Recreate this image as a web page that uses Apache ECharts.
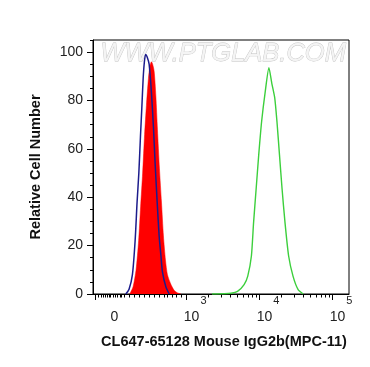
<!DOCTYPE html>
<html><head><meta charset="utf-8">
<script src="https://cdn.jsdelivr.net/npm/echarts@6/dist/echarts.min.js"></script>
<style>html,body{margin:0;padding:0;background:#fff}#c{width:370px;height:367px}</style>
</head><body><div id="c"></div>
<script>
// x values are positions on the display (biexponential) scale: 2 = "0", 3 = 10^3, 4 = 10^4, 5 = 10^5
const xRange = [1.72, 5.227];
const yRange = [0, 105];
const yTickValues = [0, 20, 40, 60, 80, 100];
const xLabelValues = [2, 3, 4, 5];
const xLabelBase = ['0', '10', '10', '10'];
const xExpValues = [3, 4, 5];
const xLabelExp = ['3', '4', '5'];
const xMajorTicks = [1.757, 3, 4, 5];
const xMinorTicks = [1.79, 1.83, 1.86, 1.89, 1.92, 1.94, 1.96, 2.0, 2.03, 2.05, 2.09, 2.11, 2.15,
  2.21, 2.28, 2.35, 2.42, 2.49, 2.56, 2.63, 2.70, 2.74, 2.81, 2.86, 2.93,
  3.30, 3.48, 3.60, 3.70, 3.78, 3.85, 3.90, 3.95,
  4.30, 4.48, 4.60, 4.70, 4.78, 4.85, 4.90, 4.95];

// Sample (red, filled)
const sampleCurve = [[2.224,0],[2.269,3],[2.310,10],[2.345,22],[2.372,36],[2.400,50],[2.427,66],
  [2.452,78],[2.479,89],[2.499,94],[2.521,96],[2.537,95],[2.558,92],[2.581,82],[2.603,68],
  [2.630,52],[2.658,38],[2.685,24],[2.713,14],[2.740,8],[2.787,4],[2.832,1.5],[2.874,0.5],[2.924,0]];
// Control (navy line)
const controlCurve = [[2.169,0],[2.214,2],[2.260,8],[2.297,22],[2.324,38],[2.348,50],[2.370,65],
  [2.389,77],[2.407,89],[2.424,96],[2.441,99],[2.462,98],[2.489,95],[2.521,83],[2.548,69],
  [2.571,54],[2.599,38],[2.626,24],[2.650,16],[2.672,9],[2.718,3],[2.764,0]];
// Positive (green line)
const positiveCurve = [[3.35,0],[3.52,0.1],[3.61,0.3],[3.70,1.1],[3.79,3.9],[3.84,7.4],[3.89,15.7],
  [3.92,29.6],[3.955,43.5],[3.99,57.4],[4.03,71.3],[4.08,83.8],[4.13,93.5],[4.17,87],[4.21,81],
  [4.24,71.3],[4.275,57.4],[4.31,43.5],[4.35,29.6],[4.40,15.7],[4.46,7.4],[4.53,1.8],[4.60,0]];

const FONT = '"Liberation Sans", Arial, sans-serif';
function findIdx(arr, v) { return arr.findIndex(t => Math.abs(t - v) < 1e-6); }
const chart = echarts.init(document.getElementById('c'), null, {renderer: 'canvas'});
chart.setOption({
  animation: false,
  backgroundColor: '#fff',
  grid: {left: 93, right: 21, top: 40, bottom: 73, show: true, borderColor: '#000', borderWidth: 1},
  graphic: [{
    type: 'text', left: 100, top: 41, z: 0,
    style: {text: 'WWW.PTGLAB.COM', font: 'italic 25.5px ' + FONT, fill: '#f4f4f4', stroke: '#c2c2c2', lineWidth: 0.8}
  }],
  xAxis: [{
    type: 'value', min: xRange[0], max: xRange[1], position: 'bottom',
    name: 'CL647-65128 Mouse IgG2b(MPC-11)', nameLocation: 'middle', nameGap: 40,
    nameTextStyle: {fontFamily: FONT, fontWeight: 'bold', fontSize: 14.5, color: '#111', padding: [0, 0, 0, 6]},
    axisLine: {show: true, lineStyle: {color: '#000', width: 1}},
    axisTick: {show: true, customValues: xMajorTicks, length: 6, lineStyle: {color: '#000', width: 1}},
    splitLine: {show: false},
    axisLabel: {
      customValues: xLabelValues, margin: 16, color: '#222', fontFamily: FONT, fontSize: 14,
      formatter: function (v) {
        const i = findIdx(xLabelValues, v);
        if (i < 0) return '';
        return i === 0 ? '{z|' + xLabelBase[i] + '}' : '{b|' + xLabelBase[i] + '}';
      },
      rich: {
        b: {fontSize: 14, padding: [0, 0, 0, 10], fontFamily: FONT, color: '#222'},
        z: {fontSize: 14, padding: [0, 0, 0, 2], fontFamily: FONT, color: '#222'}
      }
    }
  }, {
    type: 'value', min: xRange[0], max: xRange[1], position: 'bottom',
    axisLine: {show: false},
    axisTick: {show: true, customValues: xMinorTicks, length: 3.5, lineStyle: {color: '#000', width: 1}},
    splitLine: {show: false},
    axisLabel: {
      customValues: xExpValues, margin: 1, fontFamily: FONT, fontSize: 11, color: '#222',
      formatter: function (v) {
        const i = findIdx(xExpValues, v);
        return i < 0 ? '' : '{s|' + xLabelExp[i] + '}';
      },
      rich: {s: {fontSize: 11, padding: [0, 0, 0, 34], fontFamily: FONT, color: '#222'}}
    }
  }],
  yAxis: [{
    type: 'value', min: yRange[0], max: yRange[1], position: 'left',
    name: 'Relative Cell Number', nameLocation: 'middle', nameGap: 50,
    nameTextStyle: {fontFamily: FONT, fontWeight: 'bold', fontSize: 14.5, color: '#111'},
    axisLine: {show: true, lineStyle: {color: '#000', width: 1}},
    axisTick: {show: true, customValues: yTickValues, length: 6, lineStyle: {color: '#000', width: 1}},
    axisLabel: {customValues: yTickValues, margin: 10, fontFamily: FONT, fontSize: 14, color: '#222'},
    splitLine: {show: false}
  }, {
    type: 'value', min: yRange[0], max: yRange[1], interval: 5, position: 'left',
    axisLine: {show: false},
    axisTick: {show: true, length: 3, lineStyle: {color: '#000', width: 1}},
    axisLabel: {show: false}, splitLine: {show: false}
  }],
  series: [{
    type: 'line', data: sampleCurve, xAxisIndex: 0, yAxisIndex: 0, symbol: 'none', smooth: 0.25, z: 2,
    lineStyle: {color: '#ff0000', width: 0.5}, areaStyle: {color: '#ff0000', opacity: 1}
  }, {
    type: 'line', data: controlCurve, xAxisIndex: 0, yAxisIndex: 0, symbol: 'none', smooth: 0.25, z: 3,
    lineStyle: {color: '#1c1c8c', width: 1.5}
  }, {
    type: 'line', data: positiveCurve, xAxisIndex: 0, yAxisIndex: 0, symbol: 'none', smooth: 0.2, z: 3,
    lineStyle: {color: '#3ccf3c', width: 1.4}
  }]
});
</script></body></html>
